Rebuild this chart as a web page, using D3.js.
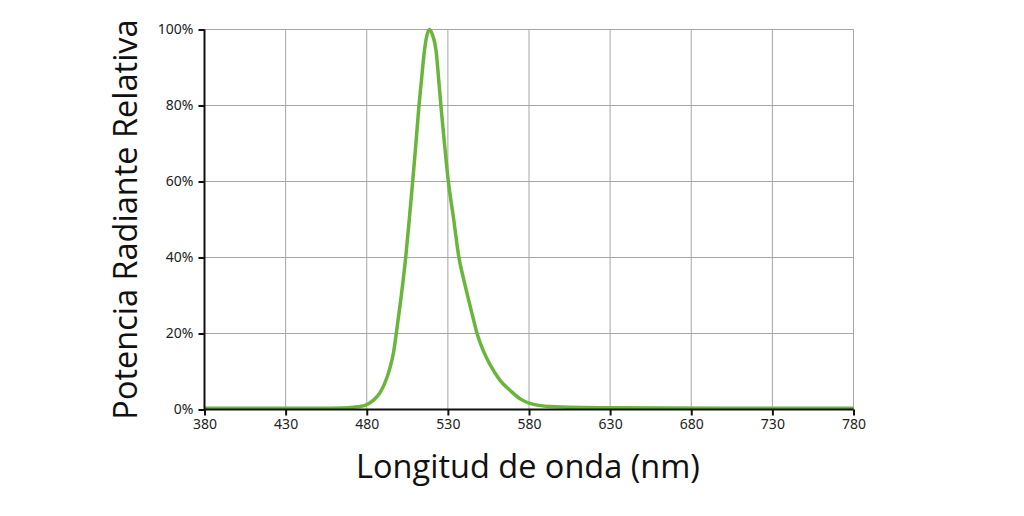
<!DOCTYPE html>
<html>
<head>
<meta charset="utf-8">
<script src="https://cdn.jsdelivr.net/npm/d3@7"></script>
<style>
  html, body { margin: 0; padding: 0; background: #fff; }
  svg { display: block; }
</style>
</head>
<body>
<svg id="chart" width="1024" height="516"></svg>
<script>
// Data (wavelength in nm, relative radiant power in %)
const wavelengths = [380, 450, 465, 472, 476, 479, 484, 488, 491, 494, 496.5, 498.2, 501, 504, 506.2, 508.3, 510.3, 512.2, 513.8, 515.3, 517, 518.7, 520.5, 522.7, 524.5, 525.7, 527.9, 530.3, 533.6, 536.8, 539.6, 542.7, 545.3, 548, 552, 556, 562.3, 568.4, 574.6, 580, 593, 630, 700, 780];
const power =       [0.3, 0.3, 0.4, 0.6, 0.8, 1.1, 2.4, 4.3, 6.8, 10.5, 15, 20, 29, 40, 50, 60, 70, 80, 87, 93.5, 98.3, 100, 98.6, 94.5, 86, 80, 70, 60, 50, 40, 34.5, 29, 24.5, 20, 15.3, 11.8, 7.6, 5, 2.8, 1.7, 0.8, 0.45, 0.3, 0.3];
const xTicks = [380, 430, 480, 530, 580, 630, 680, 730, 780];
const yTicks = [0, 20, 40, 60, 80, 100];
const xTitle = "Longitud de onda (nm)";
const yTitle = "Potencia Radiante Relativa";

const svg = d3.select("#chart");
const margin = { left: 204.5, right: 1024 - 853.5, top: 29.5, bottom: 516 - 409.5 };
const W = 1024, H = 516;
const x = d3.scaleLinear().domain([380, 780]).range([margin.left, W - margin.right]);
const y = d3.scaleLinear().domain([0, 100]).range([H - margin.bottom, margin.top]);

// grid
const grid = svg.append("g");
grid.selectAll("line.v").data(xTicks).join("line")
  .attr("x1", d => x(d)).attr("x2", d => x(d))
  .attr("y1", y(0)).attr("y2", y(100))
  .attr("stroke", "#a6a6a6").attr("stroke-width", 1);
grid.selectAll("line.h").data(yTicks).join("line")
  .attr("x1", x(380)).attr("x2", x(780))
  .attr("y1", d => y(d)).attr("y2", d => y(d))
  .attr("stroke", "#a6a6a6").attr("stroke-width", 1);

// curve
const pts = wavelengths.map((w, i) => [w, power[i]]);
const line = d3.line().x(d => x(d[0])).y(d => y(d[1])).curve(d3.curveMonotoneX);
svg.append("path").datum(pts)
  .attr("d", line)
  .attr("fill", "none")
  .attr("stroke", "#6ab53b")
  .attr("stroke-width", 3.5)
  .attr("stroke-linejoin", "round");

// axes
const xAxis = d3.axisBottom(x).tickValues(xTicks).tickSize(6).tickPadding(4).tickFormat(d3.format("d"));
const yAxis = d3.axisLeft(y).tickValues(yTicks).tickSize(6).tickPadding(5).tickFormat(d => d + "%");

const gx = svg.append("g").attr("transform", `translate(0,${y(0)})`).call(xAxis);
const gy = svg.append("g").attr("transform", `translate(${x(380)},0)`).call(yAxis);
[gx, gy].forEach(g => {
  g.select(".domain").attr("stroke", "#111").attr("stroke-width", 2);
  g.selectAll(".tick line").attr("stroke", "#111").attr("stroke-width", 2);
  g.selectAll(".tick text").attr("fill", "#222")
    .style("font-family", "'Noto Sans', sans-serif").style("font-size", "14px");
});
gy.select(".domain").attr("d", `M0,${y(0)}V${y(100)}`);
gx.select(".domain").attr("d", `M${x(380)},0H${x(780)}`);

// titles
svg.append("text")
  .attr("x", (x(380) + x(780)) / 2 - 1).attr("y", 478)
  .attr("text-anchor", "middle")
  .style("font-family", "'Open Sans', sans-serif").style("font-size", "32.5px")
  .attr("fill", "#111")
  .text(xTitle);

svg.append("text")
  .attr("transform", `translate(137,${(y(0) + y(100)) / 2 + 0}) rotate(-90)`)
  .attr("text-anchor", "middle")
  .style("font-family", "'Open Sans', sans-serif").style("font-size", "32.5px")
  .attr("fill", "#111")
  .text(yTitle);
</script>
</body>
</html>
